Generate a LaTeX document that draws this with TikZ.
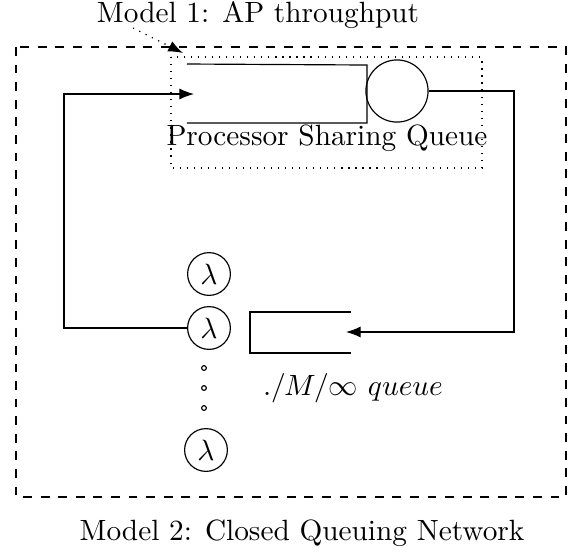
\documentclass[tikz,border=0pt]{standalone}
\usepackage{amsmath}
\usepackage{tikz}
\usetikzlibrary{arrows,arrows.meta}

\tikzset{lam/.style={draw, circle, minimum size=14.6pt, inner sep=0pt}}
\tikzset{server/.style={draw, circle, minimum size=21.2pt, inner sep=0pt}}
\tikzset{tip/.style={-{Latex[length=5pt,width=3.8pt]}}}

\begin{document}
\begin{tikzpicture}[x=0.012cm, y=-0.012cm]
            \useasboundingbox (0,0) rectangle (573,557);
            \draw[dashed]                                   ( 16, 47) rectangle (566,497);
            \draw[dotted]                                   (171, 57) rectangle (482,168);
            % processor sharing queue
            \draw                                           (187, 64) -- (367, 65) -- (367,123) -- (187,123);
            \node[server]  (srv)  at (397, 91) {};
            \node          (psq)  at (327,138) {Processor Sharing Queue};
            % ./M/inf queue
            \draw                                           (351,312) -- (250,312) -- (250,353) -- (351,353);
            \node          (infq) at (353,388) {$./M/\infty\ queue$};
            % delay stations
            \node[lam]     (l1)   at (209,274) {$\lambda$};
            \node[lam]     (l2)   at (209,328) {$\lambda$};
            \node[lam]     (l3)   at (206,450) {$\lambda$};
            \foreach \y in {368,388,408}
                \draw (204,\y) circle (0.8pt);
            % labels
            \node          (m1)   at (258, 15) {Model 1: AP throughput};
            \node          (m2)   at (302,533) {Model 2: Closed Queuing Network};
            \coordinate    (m1a)  at (133, 28);
            \coordinate    (m1b)  at (183, 53);
            \coordinate    (psin) at (194, 94);
            \coordinate    (inq)  at (346,332);
            \coordinate    (lf)   at ( 64,  0);
            \coordinate    (rt)   at (514,  0);
            % connectors
            \draw[dotted, tip] (m1a) -- (m1b);
            \draw[tip] (srv.east) -- (srv.east -| rt) -- (rt |- inq) -- (inq);
            \draw[tip] (l2.west) -- (l2.west -| lf) -- (lf |- psin) -- (psin);
        \end{tikzpicture}
\end{document}
